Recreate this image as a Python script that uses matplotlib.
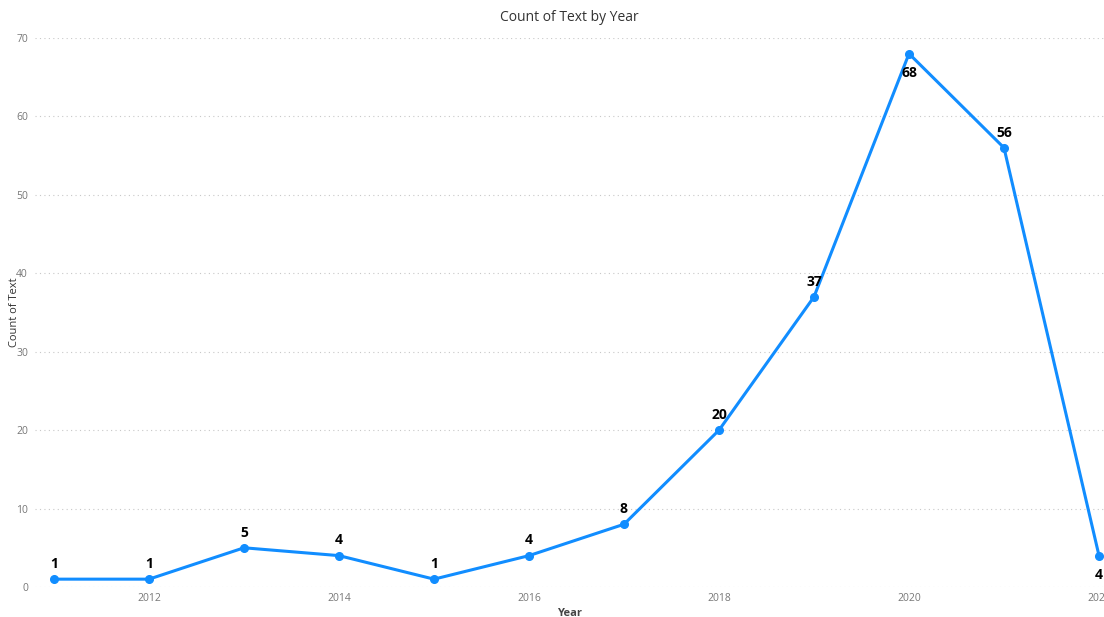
import matplotlib
matplotlib.use("Agg")
import matplotlib.pyplot as plt

years = [2011, 2012, 2013, 2014, 2015, 2016, 2017, 2018, 2019, 2020, 2021, 2022]
counts = [1, 1, 5, 4, 1, 4, 8, 20, 37, 68, 56, 4]
# labels drawn below the point for these years
below = [2020, 2022]
xticks = [2012, 2014, 2016, 2018, 2020, 2022]
yticks = [0, 10, 20, 30, 40, 50, 60, 70]

plt.rcParams['font.family'] = ['Open Sans', 'DejaVu Sans']

W, H = 1104, 617
fig = plt.figure(figsize=(W / 100, H / 100), dpi=100)
ax = fig.add_axes([35 / W, 1 - 587 / H, (W - 35) / W, (587 - 38) / H])

ax.plot(years, counts, color='#118DFF', linewidth=2.2, marker='o',
        markersize=5.5, clip_on=False, zorder=3)

for x, y in zip(years, counts):
    off = -14 if x in below else 11
    ax.annotate(str(y), (x, y), xytext=(0, off), textcoords='offset points',
                ha='center', va='center', fontsize=10, fontweight='bold', color='black')

ax.set_xlim(2011 - 19 / 95, 2022 + 5 / 95)
ax.set_ylim(0, 70)
ax.set_xticks(xticks)
ax.set_yticks(yticks)
ax.tick_params(axis='both', length=0, labelsize=7.5, labelcolor='#777777')
ax.tick_params(axis='x', pad=4)
ax.tick_params(axis='y', pad=5)

ax.grid(axis='y', linestyle=(0, (1, 3)), color='#c8c8c8', linewidth=0.8)
ax.set_axisbelow(True)
for s in ax.spines.values():
    s.set_visible(False)

ax.set_xlabel('Year', fontsize=8, color='#444444', fontweight='bold', labelpad=3)
ax.set_ylabel('Count of Text', fontsize=8, color='#333333')
ax.yaxis.set_label_coords(-15 / (W - 35), 0.5)
ax.set_title('Count of Text by Year', fontsize=10, color='#333333', pad=12)

fig.savefig('out.png', dpi=100)
